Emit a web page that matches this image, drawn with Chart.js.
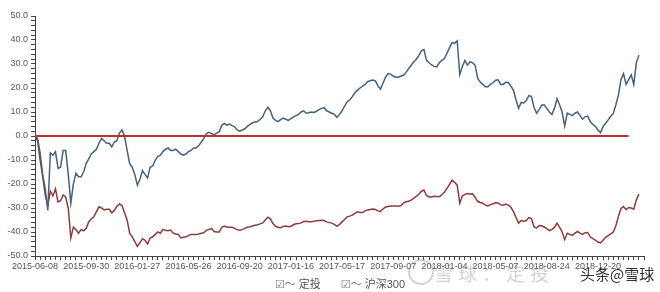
<!DOCTYPE html>
<html>
<head>
<meta charset="utf-8">
<script src="https://cdn.jsdelivr.net/npm/chart.js@4.4.0/dist/chart.umd.min.js"></script>
<style>
html,body{margin:0;padding:0;background:#fff;}
#wrap{position:relative;width:660px;height:292px;overflow:hidden;}
#legend{position:absolute;left:0;top:275px;width:680px;text-align:center;font:11px "Liberation Sans","Noto Sans CJK SC",sans-serif;color:#555;white-space:nowrap;}
#legend .it{margin:0 10px;}
#legend .ic{font-family:"DejaVu Sans","Noto Sans CJK SC";color:#777;font-size:11px;}
#wm1{position:absolute;left:434px;top:259px;font:19px "Noto Sans CJK SC",sans-serif;letter-spacing:5px;color:rgba(130,130,130,0.35);white-space:nowrap;}
#logo{position:absolute;left:408px;top:259px;width:22px;height:22px;border:2px solid rgba(130,130,130,0.35);border-radius:50%;}
#wm2{position:absolute;left:580px;top:263px;font:15px "Noto Sans CJK SC",sans-serif;color:#333;white-space:nowrap;}
</style>
</head>
<body>
<div id="wrap">
  <canvas id="chart" width="660" height="292"></canvas>
  <div id="legend"><span class="it"><span class="ic">☑～</span> 定投</span><span class="it"><span class="ic">☑～</span> 沪深300</span></div>
  <div id="logo"></div>
  <div id="wm1">雪球：定投</div>
  <div id="wm2">头条@雪球</div>
</div>
<script>
// 定投 vs 沪深300 收益率 (%), 20 Punkte pro Achsenabschnitt
const tickLabels = ["2015-06-08","2015-09-30","2016-01-27","2016-05-26","2016-09-20","2017-01-16",
  "2017-05-17","2017-09-07","2018-01-04","2018-05-07","2018-08-24","2018-12-20"];
const pointsPerTick = 20;
const lastIndex = 238;
const zeroEnd = 232;

const dingtou = [
  0,-1,-7,-16,-22,-31,-7,-8,-6.5,-13.5,-13,-6,-6,-16,-28,-20,-15.5,-17,-17,-15,
  -11.5,-9.5,-7.5,-6.5,-5.5,-3,-1,-2,-3,-3,-4.5,-2.5,-2,1.2,2.5,0,-6,-11.5,-13,-16,
  -20.5,-18,-14.5,-16,-17.5,-13,-12.5,-10,-8.5,-8,-6.5,-5.5,-5,-6,-6,-5.5,-6.5,-7.5,-8,-7.5,
  -6.5,-6,-5,-5,-4,-2.5,-1,1,1.5,1,0.5,1.2,1.8,4.5,5.2,4.5,5,4.3,3.8,2.5,
  2,2.5,3,4,4.8,5.5,5.8,6,7,8,10.5,12,10.5,7.5,6.5,6,6.8,7.5,7,6.5,
  7.2,8,8.5,9,10,10.5,9.5,9.7,10,9.8,10.3,11,11.5,11.8,10.5,10,9.5,9,7.8,9,
  10.5,12.5,14.3,15,16.4,18,19,20,20.8,21.5,22.6,23,23.3,23,21,19.5,22,24.5,26,25.8,
  25,24.5,24.5,25,25.3,26.5,28,29.5,30.8,32,33.5,35.5,36,31.5,30.5,29.6,29,28.8,30.5,31.5,
  32.3,34.5,36.8,39,38.6,39.6,25.5,29,31.5,29.5,31,30.5,29.5,24,22.5,21.5,20.5,20.5,21.5,22.3,
  23.2,23.4,21.5,21.5,22.4,22.3,20.8,19,15,11.5,14,13.8,14.8,16.8,16.5,12,9.5,11,12.8,13,
  11.5,10,9,11.5,15.5,13,10,4.2,9.5,9,8.5,9.5,10,8.5,7,8,8.3,6,4.8,4,
  2.5,1.4,3.9,5.3,6.7,8.2,9.4,13,17,23.5,26,21.5,23.5,25.5,21.5,30.5,33.7
];
const hs300 = [
  0,-2,-10,-17,-24.5,-29,-23,-25,-22,-27.5,-27,-24.6,-25.5,-30,-42.5,-38,-39,-40.5,-39,-39.5,
  -38.5,-35.8,-34.5,-33.7,-31.5,-29.5,-30,-30.8,-30.5,-30.5,-32,-31,-29.3,-28.3,-29,-32,-35,-40.5,-42,-44,
  -46,-44.5,-42.8,-43.5,-45,-42.5,-42,-41,-40,-40.5,-39,-39.3,-39.5,-39.2,-40.5,-40.8,-41,-42.5,-42.2,-42,
  -41.5,-41,-41,-41,-40.8,-40.5,-40.3,-39.2,-39,-38.5,-39.8,-40,-40,-38,-37.5,-38,-38,-38,-38.5,-39,
  -39.3,-39,-38.5,-38,-37.8,-37.5,-37.2,-37,-36.6,-36.2,-35,-33.8,-34.5,-36.5,-37.6,-38,-38.2,-37.7,-37.5,-37.8,
  -37.6,-37,-36.6,-36.5,-36.2,-35.6,-35.5,-35.7,-35.7,-35.5,-35.3,-35.2,-35.1,-35.2,-35.8,-36.1,-36.3,-36.8,-37.6,-36.8,
  -35.8,-34.8,-33.7,-33.4,-33,-32.2,-31.6,-31.9,-31.9,-31.2,-30.8,-30.6,-30.4,-30.6,-31.2,-31.4,-30.4,-29.6,-29.4,-29.2,
  -29.2,-29.2,-29.3,-29,-28,-27.4,-27.2,-26.7,-25.9,-25.2,-24.3,-23,-22.5,-24.8,-25.4,-25.4,-25.1,-25.2,-25.3,-24.5,
  -23.4,-21.8,-20.2,-18.4,-19.3,-20.5,-28,-25,-24.3,-24,-24.2,-24.1,-25.5,-27.3,-27.7,-28,-28.8,-29.1,-28.6,-28.2,
  -27.8,-27.9,-28.7,-28.8,-28.4,-28.8,-29.7,-31.5,-34,-36.3,-35.2,-35.5,-35.2,-34,-34.4,-37.8,-38.4,-37.3,-37.4,-37.9,
  -38.6,-39.4,-39,-38.1,-36.3,-38,-40,-43.2,-40.5,-41,-41.4,-40.5,-39.8,-40.5,-41,-40.3,-40.2,-42,-42.8,-43.4,
  -44.2,-44.5,-43.4,-42.2,-41.5,-40.8,-40,-37.4,-33.5,-30.2,-29.4,-30.7,-29.8,-30,-30.5,-26.6,-24.2
];

const toXY = arr => arr.map((v,i)=>({x:i,y:v}));

const chart = new Chart(document.getElementById("chart"),{
  type:"line",
  data:{
    datasets:[
      {label:"0",data:[{x:0,y:0},{x:zeroEnd,y:0}],borderColor:"#bf2f2f",borderWidth:2,pointRadius:0},
      {label:"定投",data:toXY(dingtou),borderColor:"#45627f",borderWidth:1.5,pointRadius:0},
      {label:"沪深300",data:toXY(hs300),borderColor:"#8e3b3b",borderWidth:1.5,pointRadius:0}
    ]
  },
  options:{
    responsive:false,
    animation:false,
    layout:{padding:{top:16,right:16,left:0,bottom:0}},
    plugins:{legend:{display:false},tooltip:{enabled:false}},
    scales:{
      x:{
        type:"linear",min:0,max:lastIndex,
        afterFit:s=>{s.height=36;},
        border:{display:true,color:"#444",width:1},
        grid:{drawOnChartArea:false,drawTicks:true,tickLength:4,tickColor:"#444"},
        ticks:{
          stepSize:2,autoSkip:false,maxRotation:0,padding:1,
          color:"#555",font:{family:"Liberation Sans",size:9},
          callback:v=>v%pointsPerTick===0 ? (tickLabels[v/pointsPerTick]||"") : ""
        }
      },
      y:{
        min:-50,max:50,
        afterFit:s=>{s.width=35;},
        border:{display:true,color:"#444",width:1},
        grid:{drawOnChartArea:false,drawTicks:true,tickLength:4,tickColor:"#444"},
        ticks:{
          stepSize:2,autoSkip:false,padding:3,
          color:"#555",font:{family:"Liberation Sans",size:9},
          callback:v=>v%10===0 ? v.toFixed(1) : ""
        }
      }
    }
  }
});
</script>
</body>
</html>
